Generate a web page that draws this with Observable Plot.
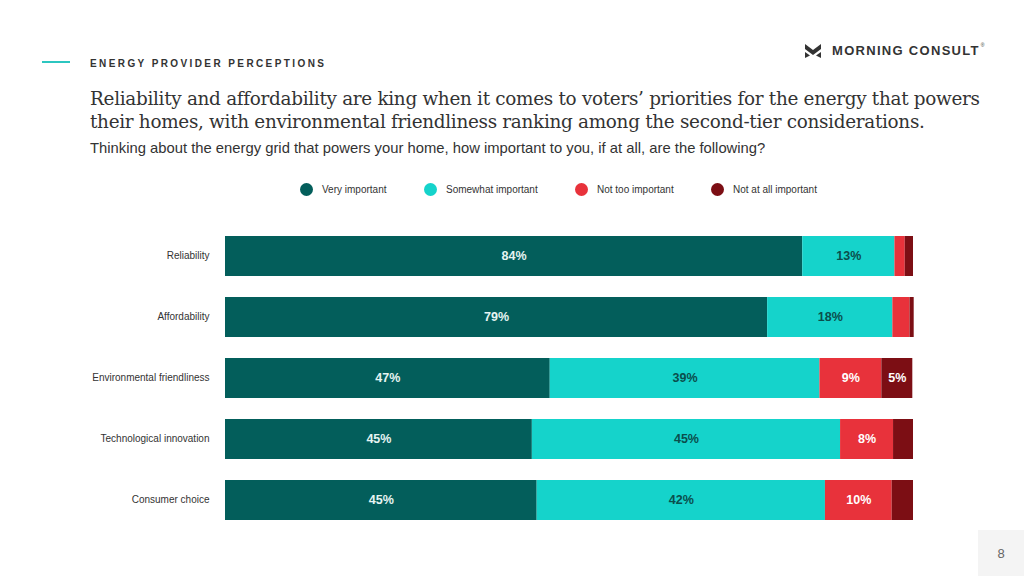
<!DOCTYPE html>
<html>
<head>
<meta charset="utf-8">
<script src="https://cdn.jsdelivr.net/npm/d3@7"></script>
<script src="https://cdn.jsdelivr.net/npm/@observablehq/plot@0.6"></script>
<style>
  html, body { margin: 0; padding: 0; background: #fff; }
  body { width: 1024px; height: 576px; position: relative; overflow: hidden; font-family: "Liberation Sans", Arial, sans-serif; }
  .rule { position: absolute; left: 42px; top: 61px; width: 28px; height: 1.5px; background: #2cc6c0; }
  .kicker { position: absolute; left: 90px; top: 58px; font-size: 10px; font-weight: bold; letter-spacing: 2.4px; color: #333; }
  .logo { position: absolute; left: 805px; top: 43px; display: flex; align-items: center; }
  .logo span { font-size: 13px; font-weight: bold; letter-spacing: 1.3px; color: #333; margin-left: 11px; font-family: "Liberation Sans", sans-serif; }
  .title { position: absolute; left: 90px; top: 87px; font-family: "DejaVu Serif", Georgia, serif; font-size: 18.4px; line-height: 23px; letter-spacing: -0.3px; color: #333; white-space: nowrap; }
  .sub { position: absolute; left: 90px; top: 140px; font-size: 14.8px; color: #333; }
  .legend { position: absolute; top: 183px; left: 0; width: 1024px; font-size: 10px; color: #333; }
  .legend .item { position: absolute; display: flex; align-items: center; }
  .legend .dot { width: 13px; height: 13px; border-radius: 50%; margin-right: 9px; }
  #chart { position: absolute; left: 0; top: 213px; }
  .page { position: absolute; left: 978px; top: 530px; width: 46px; height: 46px; background: #f4f4f4; color: #666; font-size: 13px; display: flex; align-items: center; justify-content: center; }
</style>
</head>
<body>
<div class="rule"></div>
<div class="kicker">ENERGY PROVIDER PERCEPTIONS</div>
<div class="logo">
  <svg width="16" height="14" viewBox="0 0 16 14"><path d="M0 0 L8 6 L16 0 L16 5 L8 11 L0 5 Z" fill="#333"/><path d="M0 8 L5 11.5 L0 14 Z M16 8 L11 11.5 L16 14 Z" fill="#333"/></svg>
  <span>MORNING CONSULT</span><sup style="font-size:5px;color:#333;margin-left:1px;position:relative;top:-6px">®</sup>
</div>
<div class="title">Reliability and affordability are king when it comes to voters’ priorities for the energy that powers<br>their homes, with environmental friendliness ranking among the second-tier considerations.</div>
<div class="sub">Thinking about the energy grid that powers your home, how important to you, if at all, are the following?</div>
<div class="legend" id="legend"></div>
<div id="chart"></div>
<div class="page">8</div>
<script>
const categories = ["Reliability", "Affordability", "Environmental friendliness", "Technological innovation", "Consumer choice"];
const responses = ["Very important", "Somewhat important", "Not too important", "Not at all important"];
const colors = ["#035e5b", "#15d3cb", "#e8323b", "#7c0e14"];
const labelColors = ["#e6f4f2", "#0b4e4c", "#ffffff", "#ffffff"];
const veryImportant     = [83.9, 78.8, 47.2, 44.6, 45.3];
const somewhatImportant = [13.4, 18.2, 39.2, 44.8, 41.9];
const notTooImportant   = [1.5, 2.5, 9.0, 7.7, 9.7];
const notAtAllImportant = [1.2, 0.6, 4.5, 2.9, 3.1];
const legendX = [300, 424, 575, 711];

const series = [veryImportant, somewhatImportant, notTooImportant, notAtAllImportant];
const data = [];
categories.forEach((c, i) => {
  responses.forEach((r, j) => {
    data.push({category: c, response: r, value: series[j][i], ri: j});
  });
});

const legend = document.getElementById("legend");
responses.forEach((r, j) => {
  const it = document.createElement("div");
  it.className = "item";
  it.style.left = legendX[j] + "px";
  it.innerHTML = `<div class="dot" style="background:${colors[j]}"></div><span>${r}</span>`;
  legend.appendChild(it);
});

const chart = Plot.plot({
  width: 1024,
  height: 330,
  marginLeft: 225,
  marginRight: 111,
  marginTop: 0,
  marginBottom: 0,
  x: {domain: [0, 100], axis: null},
  y: {domain: categories, padding: 0.35, label: null, tickSize: 0, tickPadding: 16},
  color: {domain: responses, range: colors},
  style: {fontFamily: "Liberation Sans, Arial, sans-serif", fontSize: "10px", color: "#333"},
  marks: [
    Plot.barX(data, Plot.stackX({x: "value", y: "category", fill: "response", order: responses})),
    Plot.text(data, Plot.stackX({
      x: "value", y: "category", order: responses,
      text: d => d.value >= 4 ? Math.round(d.value) + "%" : "",
      fill: d => labelColors[d.ri],
      fontSize: 12.5, fontWeight: "bold", dy: -1
    })),
    Plot.axisY({tickSize: 0, tickPadding: 16, fontSize: 10, dy: -1, label: null})
  ]
});
document.getElementById("chart").appendChild(chart);
</script>
</body>
</html>
